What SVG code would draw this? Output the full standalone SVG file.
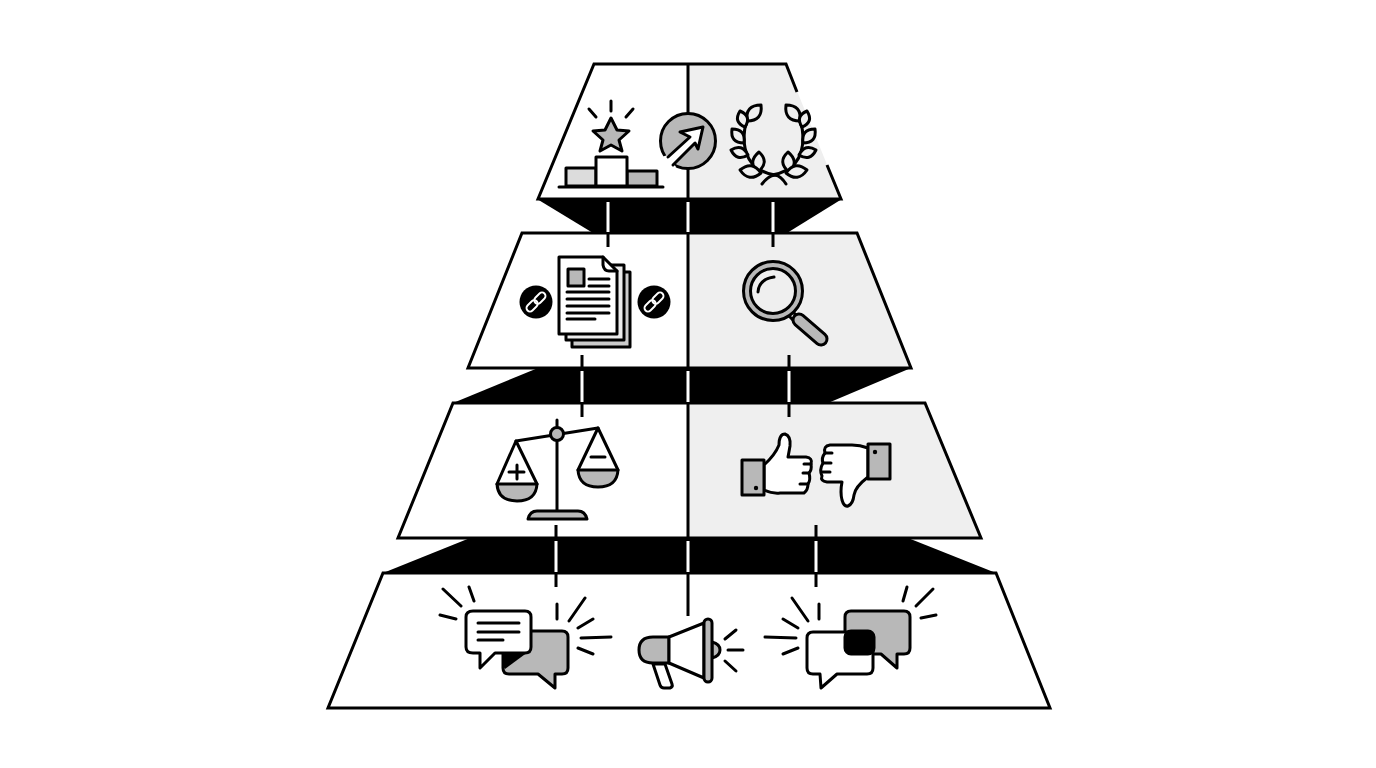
<svg xmlns="http://www.w3.org/2000/svg" width="1376" height="768" viewBox="0 0 1376 768">
<style>
.o{fill:none;stroke:#000;stroke-width:3;stroke-linejoin:round;stroke-linecap:round}
.t{fill:none;stroke:#000;stroke-width:3;stroke-linejoin:miter}
.i{stroke:#000;stroke-width:3;stroke-linejoin:round;stroke-linecap:round}
.w{fill:#fff}.g{fill:#b8b8b8}.l{fill:#efefef}.k{fill:#000}.n{fill:none}
.c{stroke:#000;stroke-width:3;fill:none}
.cw{stroke:#fff;stroke-width:3;fill:none}
.lk{fill:none;stroke:#fff;stroke-width:1.9}
</style>
<rect width="1376" height="768" fill="#fff"/>
<g id="bands">
<polygon class="k" points="537,199 842,199 787,233 593,233"/>
<polygon class="k" points="538,368 911,368 828,403 453,403"/>
<polygon class="k" points="470,538 908,538 996,573 383,573"/>
</g>
<g id="tier-1">
<polygon class="l" points="688,64 786,64 841,199 688,199"/>
<path class="t" d="M797,92L786,64H594L538,199H841L827,165"/>
</g>
<g id="tier-2">
<polygon class="l" points="688,233 857,233 911,368 688,368"/>
<polygon class="t" points="522,233 857,233 911,368 468,368"/>
</g>
<g id="tier-3">
<polygon class="l" points="688,403 925,403 981,538 688,538"/>
<polygon class="t" points="453,403 925,403 981,538 398,538"/>
</g>
<g id="tier-4">
<polygon class="t" points="383,573 996,573 1050,708 328,708"/>
</g>
<g id="connectors">
<path class="c" d="M688,64V199M688,233V368M688,403V538M688,573V616"/>
<path class="c" d="M608,233V247M773,233V247M582,355V368M582,403V417M789,355V368M789,403V417M556,525V538M556,573V587M816,525V538M816,573V587"/>
<path class="cw" d="M608,202V232M688,202V232M773,202V232M582,371V402M688,371V402M789,371V402M556,541V572M688,541V572M816,541V572"/>
</g>
<g id="podium-star">
<path class="o" d="M611,101V111M589,109L596,117M633,109L626,117"/>
<polygon class="i g" points="611,118 617,130 629,131 619,140 622,151 611,145 600,151 603,140 593,131 605,130"/>
<rect class="i" fill="#dcdcdc" x="566" y="168" width="30" height="18"/>
<rect class="i g" x="627" y="171" width="30" height="15"/>
<rect class="i w" x="596" y="157" width="31" height="29"/>
<path class="o" d="M559,187H663"/>
</g>
<g id="arrow-circle">
<circle class="i g" cx="688" cy="141" r="27.5"/>
<polygon class="w" points="658,158 668,155 676,167 665,175"/>
<path class="i w" d="M668,157L690,137L680,132L703,127L698,149L695,143L673,165"/>
</g>
<g id="laurel">
<g id="laurel-left">
<path class="o" d="M775,175Q744,170 744,137Q744,120 757,108"/>
<path class="i l" d="M747,121Q763,121 761,105Q745,105 747,121Z"/>
<path class="i l" d="M745,127Q752,116 740,111Q733,122 745,127Z"/>
<path class="i l" d="M744,143Q746,129 732,129Q730,143 744,143Z"/>
<path class="i l" d="M748,155Q742,143 731,150Q737,162 748,155Z"/>
<path class="i l" d="M758,172Q770,162 759,152Q747,162 758,172Z"/>
<path class="i l" d="M740,170Q752,160 761,173Q749,183 740,170Z"/>
</g>
<g transform="translate(1547,0) scale(-1,1)">
<path class="o" d="M775,175Q744,170 744,137Q744,120 757,108"/>
<path class="i l" d="M747,121Q763,121 761,105Q745,105 747,121Z"/>
<path class="i l" d="M745,127Q752,116 740,111Q733,122 745,127Z"/>
<path class="i l" d="M744,143Q746,129 732,129Q730,143 744,143Z"/>
<path class="i l" d="M748,155Q742,143 731,150Q737,162 748,155Z"/>
<path class="i l" d="M758,172Q770,162 759,152Q747,162 758,172Z"/>
<path class="i l" d="M740,170Q752,160 761,173Q749,183 740,170Z"/>
</g>
<path class="o" d="M762,184Q768,176 775,175Q781,176 786,184"/>
</g>
<g id="documents">
<rect class="i" fill="#ccc" x="572" y="272" width="58" height="75"/>
<rect class="i" fill="#ececec" x="566" y="265" width="58" height="75"/>
<path class="i w" d="M559,257H603L617,271V334H559Z"/>
<path class="o" d="M603,257V265Q604,271 609,271H617"/>
<rect class="i g" x="568" y="269" width="16" height="17"/>
<path class="o" d="M589,279H609M589,286H609M567,292H609M567,299H609M567,306H609M567,313H609M567,319H595"/>
</g>
<g id="link-left">
<circle class="k" cx="536" cy="302" r="16.5"/>
<g transform="rotate(-45 536 302)"><rect class="lk" x="524" y="298.500" width="13" height="7" rx="3.500"/><rect class="lk" x="535" y="298.500" width="13" height="7" rx="3.500"/></g>
</g>
<g id="link-right">
<circle class="k" cx="654" cy="302" r="16.5"/>
<g transform="rotate(-45 654 302)"><rect class="lk" x="642" y="298.500" width="13" height="7" rx="3.500"/><rect class="lk" x="653" y="298.500" width="13" height="7" rx="3.500"/></g>
</g>
<g id="magnifier">
<path class="i w" d="M791,310L798,317L794,321L787,314Z"/>
<path d="M799,320L821,339" stroke="#000" stroke-width="15" stroke-linecap="round" fill="none"/>
<path d="M799,320L821,339" stroke="#b8b8b8" stroke-width="9" stroke-linecap="round" fill="none"/>
<circle class="i g" cx="773" cy="291" r="29.5"/>
<circle class="i" fill="#efefef" cx="773" cy="291" r="22.5"/>
<path class="o" d="M758,292Q759,279 774,277"/>
</g>
<g id="scale">
<path class="o" d="M557,420V512M516,441L598,428"/>
<path class="i g" d="M528,519Q530,511 537,511H578Q585,511 587,519Z"/>
<circle class="i g" cx="557" cy="434" r="6.5"/>
<path class="i g" d="M497,484H537Q536,501 517,501Q498,501 497,484Z"/>
<path class="o" d="M497,484L516,441L537,484"/>
<path class="o" d="M509,472H524M517,465V479"/>
<path class="i g" d="M578,470H618Q617,487 598,487Q579,487 578,470Z"/>
<path class="o" d="M578,470L598,428L618,470"/>
<path class="o" d="M591,457H605"/>
</g>
<g id="thumb-up">
<path class="i w" d="M764,465Q775,455 779,445Q779,434 785,434Q791,436 790,446Q789,452 788,457H806Q813,458 811,464Q812,470 809,473Q811,480 808,484Q808,490 804,493H780Q773,494 764,490Z"/>
<path class="o" d="M811,464H804M809,473H803M808,484H800"/>
<rect class="i g" x="742" y="460" width="22" height="35"/>
<circle class="k" cx="756" cy="488" r="2.2"/>
</g>
<g id="thumb-down">
<path class="i w" d="M868,448Q860,445 852,445H830Q823,446 825,453Q821,458 823,463Q819,470 822,476Q820,481 827,482H842Q840,492 842,500Q844,507 848,506Q853,504 854,495Q855,487 868,477Z"/>
<path class="o" d="M825,453H832M823,463H831M822,472H830"/>
<rect class="i g" x="868" y="444" width="22" height="35"/>
<circle class="k" cx="875" cy="452" r="2.2"/>
</g>
<g id="chat-left">
<path class="i g" d="M509,631H562Q568,631 568,637V668Q568,674 562,674H555V688L538,674H509Q503,674 503,668V637Q503,631 509,631Z"/>
<path class="k" d="M503,652H528L505,669Q503,667 503,660Z"/>
<path class="i w" d="M473,611H525Q531,611 531,617V647Q531,653 525,653H495L480,668V653H473Q466,653 466,647V617Q466,611 473,611Z"/>
<path class="o" d="M478,623H519M478,632H519M478,640H503"/>
<path class="o" d="M443,589L461,606M469,587L474,601M440,615L456,619M557,604V619M585,598L569,621M593,619L578,628M611,637L581,638M593,654L578,648"/>
</g>
<g id="megaphone">
<path class="i g" d="M669,637H653Q639,637 639,650Q639,663 653,663H669Z"/>
<path class="i w" d="M653,664L660,685Q661,688 664,688H670Q673,687 672,684L665,664Z"/>
<polygon class="i w" points="669,637 704,623 704,678 669,663"/>
<path class="i g" d="M712,642Q720,644 720,650Q720,656 712,658Z"/>
<rect class="i g" x="704" y="619" width="8" height="63" rx="4"/>
<path class="o" d="M736,630L725,639M728,650H743M725,661L736,671"/>
</g>
<g id="chat-right">
<path class="i g" d="M851,611H904Q910,611 910,617V648Q910,654 904,654H897V668L881,654H851Q845,654 845,648V617Q845,611 851,611Z"/>
<path class="i w" d="M813,632H867Q873,632 873,638V668Q873,674 867,674H837L821,688L820,674H813Q807,674 807,668V638Q807,632 813,632Z"/>
<rect class="i k" x="845" y="631" width="29" height="23" rx="6"/>
<path class="o" d="M819,604V619M792,598L808,621M783,619L798,628M765,637L796,638M783,654L798,648M907,587L903,601M933,589L916,606M936,615L921,618"/>
</g>
</svg>
